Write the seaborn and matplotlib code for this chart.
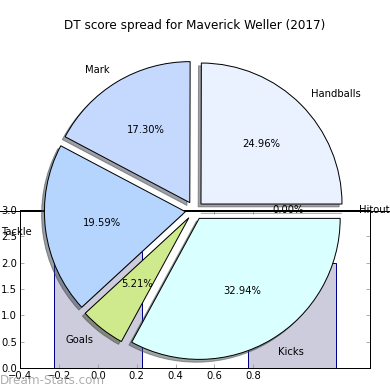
import matplotlib
matplotlib.use("Agg")
import matplotlib.pyplot as plt
import seaborn as sns

# Pie data: share of DT score (%)
categories = ["Handballs", "Mark", "Tackle", "Goals", "Kicks", "Hitout"]
shares = [24.96, 17.30, 19.59, 5.21, 32.94, 0.0]
wedge_colors = ["#eaf1ff", "#c5d9ff", "#b5d5ff", "#cfea8c", "#d9ffff", "#ffffff"]

# Bars sitting behind the pie
bar_x = [0, 1]
bar_heights = [2.2, 2.0]

x_ticks = [-0.4, -0.2, 0.0, 0.2, 0.4, 0.6, 0.8]
y_ticks = [0.0, 0.5, 1.0, 1.5, 2.0, 2.5, 3.0]

title = "DT score spread for Maverick Weller (2017)"

W = 390.0
fig = plt.figure(figsize=(W / 72, W / 72), dpi=72)

# background bar axes
ax_bar = fig.add_axes([20 / W, 22 / W, 350 / W, 158 / W])
sns.barplot(x=bar_x, y=bar_heights, ax=ax_bar, native_scale=True, width=0.45,
            color="#ccccdd", saturation=1, edgecolor="#000088", linewidth=1)
ax_bar.set_xlim(-0.4, 1.4)
ax_bar.set_ylim(0, 3.0)
ax_bar.set_xticks(x_ticks)
ax_bar.set_xticklabels([f"{t:.1f}".replace("-", "\u2212") for t in x_ticks])
ax_bar.set_yticks(y_ticks)
ax_bar.set_yticklabels([f"{t:.1f}" for t in y_ticks])
ax_bar.set_xlabel("")
ax_bar.set_ylabel("")
ax_bar.tick_params(direction="in", length=4, color="#999999", labelsize=10,
                   top=True, right=True, pad=3)
for s in ax_bar.spines.values():
    s.set_linewidth(1)
    s.set_color("black")

# pie on top, transparent
r = 141.0
cx, cy = 194.5, 210.5
ax_pie = fig.add_axes([0, 0, 1, 1])
ax_pie.axhline(0, color="black", lw=1, zorder=0)
ax_pie.pie(shares, labels=categories, colors=wedge_colors, explode=[0.065] * 6,
           autopct="%.2f%%", shadow=True,
           wedgeprops=dict(edgecolor="black", linewidth=1),
           textprops=dict(fontsize=10))
ax_pie.set_xlim(-cx / r, (W - cx) / r)
ax_pie.set_ylim(-(W - cy) / r, cy / r)
ax_pie.set_aspect("equal")
ax_pie.axis("off")

fig.text(195 / W, 1 - 26 / W, title, ha="center", va="center", fontsize=12)
fig.text(0, 1 - 380 / W, "Dream-Stats.com", ha="left", va="center",
         fontsize=12, color="#999999", alpha=0.8)

fig.savefig("out.png", dpi=72)
